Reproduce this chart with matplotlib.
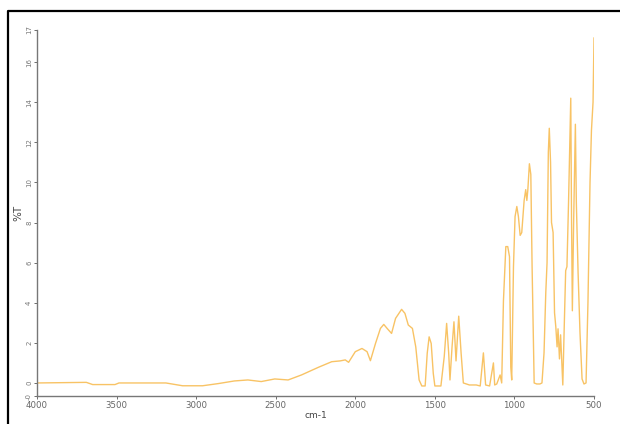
import matplotlib.pyplot as plt
from matplotlib.lines import Line2D

# espectro IR (numero de onda en cm-1, %T)
numero_onda = [4000, 3690, 3650, 3510, 3485, 3190, 3085, 2960, 2860, 2760,
               2675, 2591, 2506, 2422, 2338, 2232, 2148, 2095, 2063, 2042,
               2000, 1958, 1926, 1905, 1873, 1842, 1821, 1800, 1772, 1747,
               1709, 1688, 1667, 1641, 1620, 1599, 1582, 1561, 1548, 1536,
               1523, 1510, 1500, 1462, 1441, 1426, 1413, 1405, 1392, 1380,
               1367, 1350, 1335, 1321, 1283, 1240, 1215, 1195, 1181, 1156,
               1132, 1124, 1111, 1090, 1080, 1069, 1054, 1042, 1031, 1023,
               1017, 1006, 996, 985, 975, 964, 954, 939, 929, 922,
               916, 906, 897, 889, 876, 860, 840, 827, 814, 803,
               795, 787, 781, 773, 767, 757, 748, 740, 732, 726,
               717, 710, 696, 688, 678, 670, 660, 646, 641, 636,
               628, 617, 611, 600, 588, 575, 563, 550, 538, 525,
               516, 506, 500]
transmitancia = [0.0, 0.03, -0.08, -0.08, 0.0, 0.0, -0.14, -0.14, -0.03, 0.1,
                 0.15, 0.07, 0.2, 0.15, 0.4, 0.78, 1.06, 1.1, 1.15, 1.03,
                 1.56, 1.72, 1.56, 1.11, 1.97, 2.72, 2.92, 2.72, 2.47, 3.22,
                 3.67, 3.47, 2.89, 2.72, 1.8, 0.15, -0.15, -0.15, 1.48, 2.3,
                 1.97, 0.48, -0.15, -0.15, 1.32, 2.97, 1.48, 0.15, 1.8, 3.05,
                 1.1, 3.33, 1.48, 0.0, -0.1, -0.1, -0.15, 1.5, -0.1, -0.15,
                 1.0, -0.1, -0.05, 0.4, 0.0, 4.1, 6.8, 6.8, 6.3, 0.8,
                 0.15, 5.8, 8.3, 8.8, 8.3, 7.36, 7.5, 9.1, 9.64, 9.1,
                 9.6, 10.93, 10.4, 5.8, 0.0, -0.05, -0.05, 0.0, 1.5, 4.5,
                 6.0, 11.5, 12.7, 11.0, 8.0, 7.5, 3.5, 2.8, 1.8, 2.7,
                 1.2, 2.4, -0.1, 2.5, 5.6, 5.8, 9.0, 14.2, 8.0, 3.6,
                 8.0, 12.9, 9.0, 5.5, 2.5, 0.2, -0.05, 0.0, 4.0, 10.0,
                 12.6, 14.0, 17.2]

ticks_x = [4000, 3500, 3000, 2500, 2000, 1500, 1000, 500]
ticks_y = [-0.65, 0, 2, 4, 6, 8, 10, 12, 14, 16, 17.6]
etiquetas_y = ["-0", "0", "2", "4", "6", "8", "10", "12", "14", "16", "17"]

fig = plt.figure(figsize=(6.2, 4.24), dpi=100)
ax = fig.add_axes([37 / 620, 28 / 424, 557 / 620, 366 / 424])

ax.plot(numero_onda, transmitancia, color='#f8c365', lw=1.0)

ax.set_xlim(4000, 500)
ax.set_ylim(-0.65, 17.6)
ax.set_xticks(ticks_x)
ax.set_xticklabels([str(t) for t in ticks_x], fontsize=6.2, color='#666666')
ax.set_yticks(ticks_y)
ax.set_yticklabels(etiquetas_y, fontsize=5, color='#777777', rotation=90,
                   va='center')
ax.tick_params(axis='both', length=2, width=0.6, color='#555555', pad=1.5)

for lado in ['top', 'right']:
    ax.spines[lado].set_visible(False)
for lado in ['left', 'bottom']:
    ax.spines[lado].set_color('#777777')
    ax.spines[lado].set_linewidth(1.0)

ax.set_xlabel('cm-1', fontsize=6.5, color='#444444', labelpad=1)
ax.set_ylabel('%T', fontsize=7.5, color='#444444', labelpad=2)

# marco negro de la imagen original (arriba e izquierda)
y_marco = 1 - 11 / 424
x_marco = 8 / 620
fig.add_artist(Line2D([x_marco, x_marco, 1], [0, y_marco, y_marco],
                      transform=fig.transFigure, color='black', lw=1.6))

fig.savefig('out.png', dpi=100)
